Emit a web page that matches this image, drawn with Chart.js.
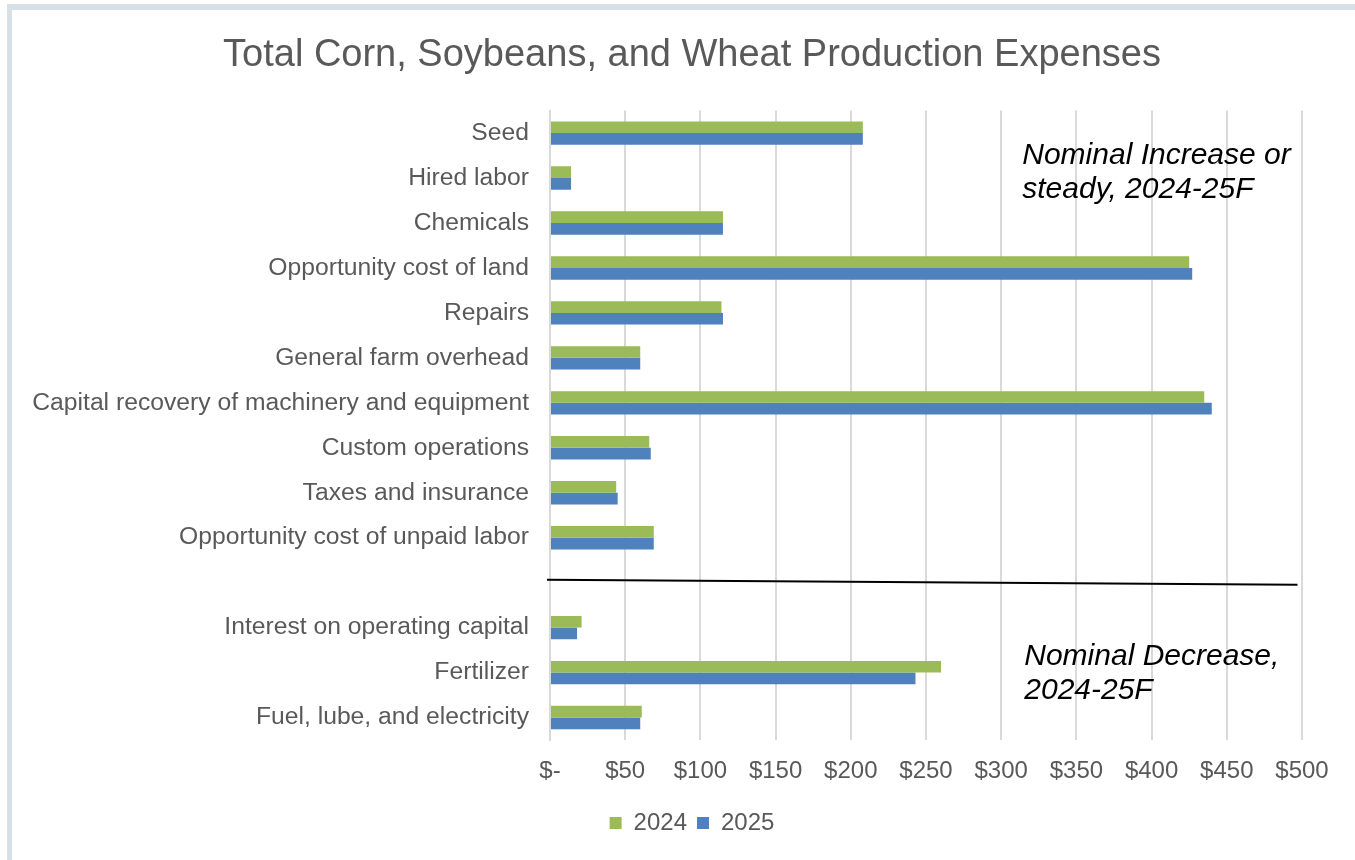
<!doctype html>
<html lang="en">

<head>
    <meta charset="utf-8">
    <title>Total Corn, Soybeans, and Wheat Production Expenses</title>
    <script src="https://cdn.jsdelivr.net/npm/chart.js@4.4.1/dist/chart.umd.min.js"></script>
    <style>
        html, body { margin: 0; padding: 0; background: #fff; overflow: hidden; }
        #frame { position: absolute; left: 7px; top: 4px; width: 1400px; height: 900px; border-top: 6px solid #d8e0e7; border-left: 5px solid #d8e0e7; }
        #chart { position: absolute; left: 0; top: 0; }
    </style>
</head>

<body>
    <div id="frame"></div>
    <canvas id="chart" width="1355" height="860"></canvas>

    <script>
        // categories, top to bottom; '' is the blank row under the divider
        var categories = ['Seed', 'Hired labor', 'Chemicals', 'Opportunity cost of land', 'Repairs',
            'General farm overhead', 'Capital recovery of machinery and equipment', 'Custom operations',
            'Taxes and insurance', 'Opportunity cost of unpaid labor', '',
            'Interest on operating capital', 'Fertilizer', 'Fuel, lube, and electricity'];

        // dollars per acre
        var y2024 = [208, 14, 115, 425, 114, 60, 435, 66, 44, 69, null, 21, 260, 61];
        var y2025 = [208, 14, 115, 427, 115, 60, 440, 67, 45, 69, null, 18, 243, 60];

        var xTicks = [0, 50, 100, 150, 200, 250, 300, 350, 400, 450, 500];

        var fontName = '"Liberation Sans", Arial, sans-serif';
        var grey = '#595959';

        // divider line + the two italic notes
        var notes = {
            id: 'notes',
            afterLayout: function (chart) {
                // let the long category names run left of the padding (labels are clipped to the scale box)
                chart.scales.y.left = 14;
            },
            afterDatasetsDraw: function (chart) {
                var ctx = chart.ctx;
                var xs = chart.scales.x;
                var ys = chart.scales.y;
                var mid = ys.getPixelForValue(10);
                ctx.save();
                ctx.strokeStyle = '#000';
                ctx.lineWidth = 2;
                ctx.beginPath();
                ctx.moveTo(xs.getPixelForValue(-2), mid - 3);
                ctx.lineTo(xs.getPixelForValue(497), mid + 2);
                ctx.stroke();

                ctx.fillStyle = '#000';
                ctx.font = 'italic 30px ' + fontName;
                ctx.textAlign = 'left';
                ctx.textBaseline = 'alphabetic';
                var tx = xs.getPixelForValue(314);
                var top = ys.getPixelForValue(0);
                ctx.fillText('Nominal Increase or', tx, top + 31);
                ctx.fillText('steady, 2024-25F', tx, top + 65);
                var bot = ys.getPixelForValue(12);
                ctx.fillText('Nominal Decrease,', tx + 2, bot - 8);
                ctx.fillText('2024-25F', tx + 2, bot + 26);
                ctx.restore();
            }
        };

        new Chart(document.getElementById('chart').getContext('2d'), {
            type: 'bar',
            data: {
                labels: categories,
                datasets: [{
                    label: '2024',
                    backgroundColor: '#9BBB59',
                    data: y2024
                }, {
                    label: '2025',
                    backgroundColor: '#4F81BD',
                    data: y2025
                }]
            },
            options: {
                indexAxis: 'y',
                responsive: false,
                animation: false,
                devicePixelRatio: 1,
                categoryPercentage: 0.52,
                barPercentage: 1.0,
                layout: {
                    padding: { left: 82, right: 53, top: 0, bottom: 15 }
                },
                scales: {
                    x: {
                        min: 0,
                        max: 500,
                        afterBuildTicks: function (scale) {
                            scale.ticks = xTicks.map(function (v) { return { value: v }; });
                        },
                        afterFit: function (scale) { scale.height = 61; },
                        grid: { color: '#d9d9d9', lineWidth: 2, drawTicks: false },
                        border: { display: false },
                        ticks: {
                            padding: 17,
                            color: grey,
                            font: { family: fontName, size: 24 },
                            maxRotation: 0,
                            callback: function (v) { return v === 0 ? '$-' : '$' + v; }
                        }
                    },
                    y: {
                        afterFit: function (scale) { scale.width = 468; },
                        grid: { display: false, drawTicks: false },
                        border: { display: true, color: '#d9d9d9', width: 2 },
                        ticks: {
                            padding: 21,
                            color: grey,
                            autoSkip: false,
                            font: { family: fontName, size: 24.7 }
                        }
                    }
                },
                plugins: {
                    title: {
                        display: true,
                        text: 'Total Corn, Soybeans, and Wheat Production Expenses',
                        color: grey,
                        font: { family: fontName, size: 38, weight: 'normal' },
                        padding: { top: 33, bottom: 32 }
                    },
                    legend: {
                        position: 'bottom',
                        labels: {
                            color: grey,
                            boxWidth: 12,
                            boxHeight: 12,
                            padding: 10,
                            font: { family: fontName, size: 24 }
                        }
                    },
                    tooltip: { enabled: false }
                }
            },
            plugins: [notes]
        });
    </script>

</body>

</html>
